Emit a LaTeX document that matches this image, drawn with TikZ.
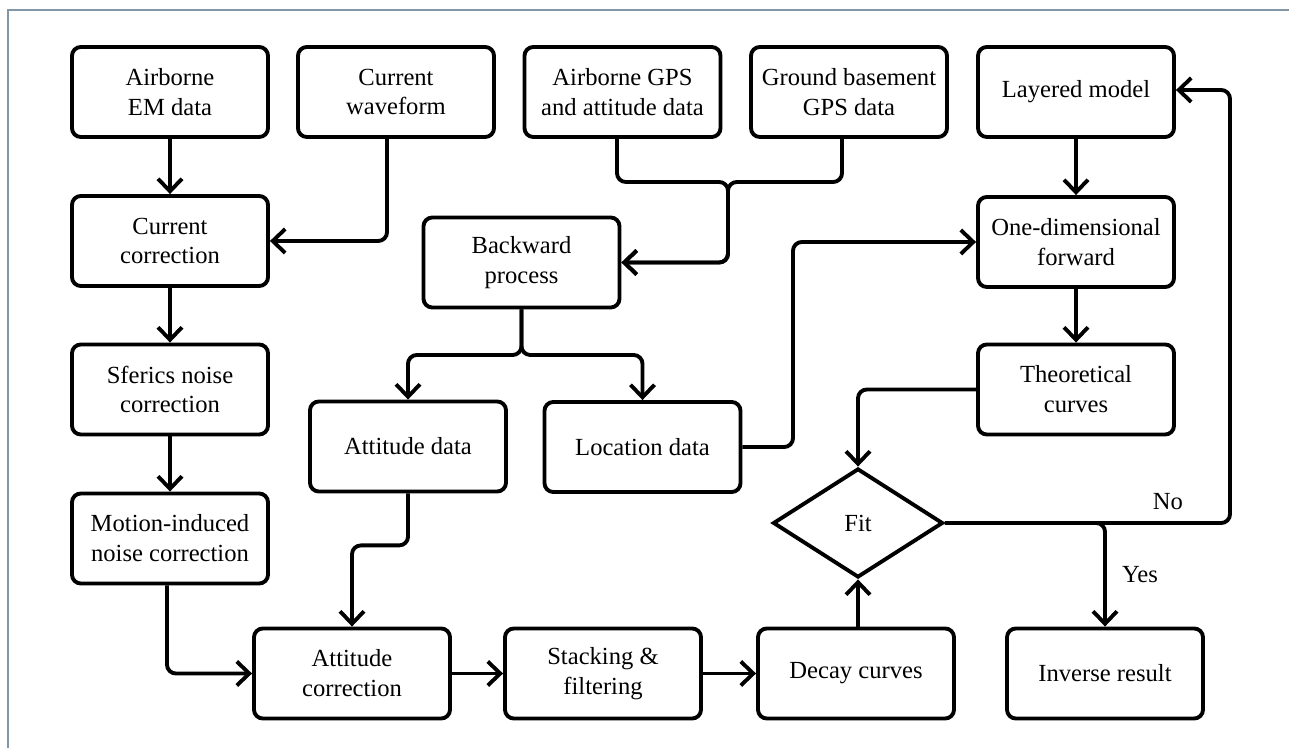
\documentclass[tikz,border=0pt]{standalone}
\usepackage{fontspec}
\setmainfont{Liberation Serif}
\usetikzlibrary{arrows.meta,shapes.geometric}
\definecolor{framegray}{RGB}{130,150,165}
\begin{document}
\begin{tikzpicture}[
  font=\fontsize{14}{17}\selectfont, line width=2.2pt,
    box/.style={draw, rounded corners=5pt, minimum width=3.92cm, minimum height=1.8cm,
                align=center, inner sep=2pt},
    dec/.style={draw, diamond, aspect=1.56, minimum width=3.4cm, minimum height=2.18cm,
                inner sep=0pt, line join=miter},
    lnk/.style={-{Straight Barb[length=2.5mm, width=4.8mm]}, rounded corners=5pt},
    lbl/.style={inner sep=0pt},
]
\useasboundingbox (0,0) rectangle (25.78,14.96);
\draw[framegray, line width=1.1pt] (0.16,0) -- (0.16,14.76) -- (25.78,14.76);
\node[box] (em) at (3.40,13.12) {Airborne\\EM data};
\node[box] (wave) at (7.92,13.12) {Current\\waveform};
\node[box] (agps) at (12.45,13.12) {Airborne GPS\\and attitude data};
\node[box] (ggps) at (16.98,13.12) {Ground basement\\GPS data};
\node[box] (layer) at (21.52,13.12) {Layered model};
\node[box] (cur) at (3.40,10.14) {Current\\correction};
\node[box] (back) at (10.43,9.71) {Backward\\process};
\node[box] (oned) at (21.52,10.12) {One-dimensional\\forward};
\node[box] (sfer) at (3.40,7.17) {Sferics noise\\correction};
\node[box] (theo) at (21.52,7.17) {Theoretical\\curves};
\node[box] (attd) at (8.16,6.03) {Attitude data};
\node[box] (loc) at (12.85,6.02) {Location data};
\node[dec] (fit) at (17.16,4.50) {Fit};
\node[box] (mot) at (3.40,4.19) {Motion-induced\\noise correction};
\node[box] (attc) at (7.04,1.49) {Attitude\\correction};
\node[box] (stack) at (12.06,1.49) {Stacking \&\\filtering};
\node[box] (decay) at (17.12,1.49) {Decay curves};
\node[box] (inv) at (22.10,1.49) {Inverse result};
\node[lbl] (lno) at (23.36,4.92) {No};
\node[lbl] (lyes) at (22.80,3.46) {Yes};
\coordinate (join) at (14.56,11.32);
\coordinate (split) at (10.43,7.86);
\coordinate (lb) at (15.86,6.02);
\coordinate (fb) at (24.60,13.16);
% left column
\draw[lnk] (em) -- (cur);
\draw[lnk] ([xshift=-0.18cm]wave.south) |- (cur.east);
\draw[lnk] (cur) -- (sfer);
\draw[lnk] (sfer) -- (mot);
\draw[lnk] ([xshift=-0.06cm]mot.south) |- (attc.west);
% GPS and backward process
\draw[lnk] ([xshift=-0.11cm]agps.south) |- (join) |- (back.east);
\draw[lnk] ([xshift=-0.14cm]ggps.south) |- (join) |- (back.east);
\draw[lnk] (back.south) -- (split) -| (attd.north);
\draw[lnk] (back.south) -- (split) -| (loc.north);
\draw[lnk] (attd.south) -- ++(0,-1.04) -| (attc.north);
\draw[lnk] (loc.east) -- (lb) |- (oned.west);
% bottom row
\draw[lnk] (attc) -- (stack);
\draw[lnk] (stack) -- (decay);
\draw[lnk] (fit.south |- decay.north) -- (fit.south);
% forward modelling
\draw[lnk] (layer) -- (oned);
\draw[lnk] (oned) -- (theo);
\draw[lnk] (theo.west) -| (fit.north);
\draw[lnk] (fit.east) -| (fb) -- (layer.east |- fb);
\draw[lnk] (fit.east) -| (inv.north);
\end{tikzpicture}
\end{document}
